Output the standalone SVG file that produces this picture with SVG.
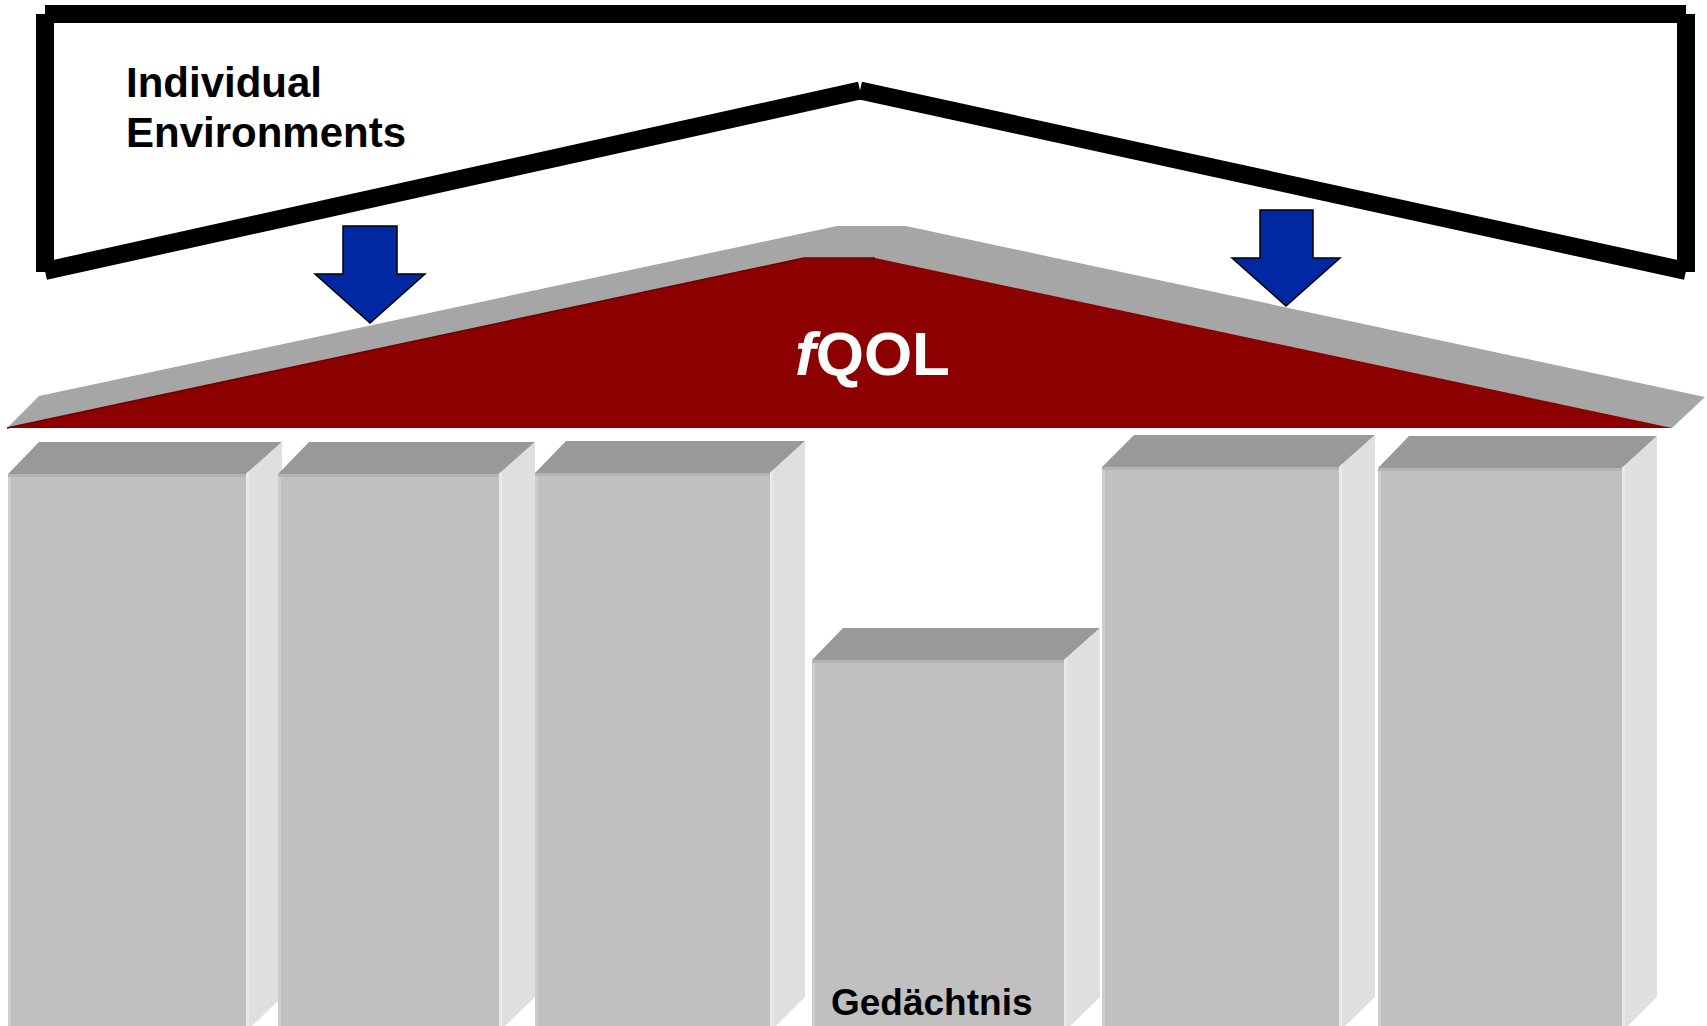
<svg xmlns="http://www.w3.org/2000/svg" width="1707" height="1026" viewBox="0 0 1707 1026">
  <defs>
    <style>
      .frame { fill: none; stroke: #000; stroke-width: 18; stroke-linecap: butt; }
      .top { fill: #999999; }
      .front { fill: #C0C0C0; }
      .side { fill: #DFDFDF; }
      .fedge { fill: #CDCDCD; }
      .tedge { fill: #B5B5B5; }
      .sedge { fill: #E9E9E9; }
      .arrow { fill: #0028A3; stroke: #000; stroke-width: 1.5; stroke-linejoin: miter; }
      .lbl { font-family: "Liberation Sans", Arial, sans-serif; font-weight: bold; fill: #000; }
      .roofgray { fill: #A6A6A6; }
      .roofred { fill: #8C0000; }
    </style>
  </defs>
  <rect x="0" y="0" width="1707" height="1026" fill="#FFFFFF"/>

  <g id="environments">
    <line class="frame" x1="45" y1="14" x2="1686" y2="14"/>
    <line class="frame" x1="45" y1="14" x2="45" y2="272"/>
    <line class="frame" x1="1686" y1="14" x2="1686" y2="272"/>
    <line class="frame" x1="45" y1="271" x2="860" y2="90.5"/>
    <line class="frame" x1="860" y1="90.5" x2="1686" y2="271"/>
    <text class="lbl" x="126" y="97" font-size="42">Individual</text>
    <text class="lbl" x="126" y="147" font-size="42">Environments</text>
  </g>

  <g id="roof">
    <polygon class="roofgray" points="7,428 39,396 837,226 906,226 1705,397 1672,428"/>
    <polygon class="roofred" points="7,428 804,258 875,258 1672,428"/>
    <polyline points="7,428 804,258 875,258" fill="none" stroke="#6E0000" stroke-width="1.5"/>
    <text x="795" y="375" font-family="Liberation Sans, Arial, sans-serif" font-weight="bold" font-size="62" fill="#FFFFFF"><tspan font-style="italic">f</tspan>QOL</text>
  </g>

  <g id="col1">
    <polygon class="top" points="8,474 39,442 282,442 246,474"/>
    <rect class="front" x="8" y="474" width="238" height="560"/>
    <rect class="fedge" x="8" y="474" width="3" height="560"/>
    <rect class="tedge" x="8" y="474" width="238" height="3"/>
    <polygon class="side" points="246,474 282,442 282,997 246,1032"/>
    <polygon class="sedge" points="246,474 249,471 249,1029 246,1032"/>
  </g>
  <g id="col2">
    <polygon class="top" points="278,474 309,442 535,442 499,474"/>
    <rect class="front" x="278" y="474" width="221" height="560"/>
    <rect class="fedge" x="278" y="474" width="3" height="560"/>
    <rect class="tedge" x="278" y="474" width="221" height="3"/>
    <polygon class="side" points="499,474 535,442 535,997 499,1032"/>
    <polygon class="sedge" points="499,474 502,471 502,1029 499,1032"/>
  </g>
  <g id="col3">
    <polygon class="top" points="535,473 566,441 805,441 770,473"/>
    <rect class="front" x="535" y="473" width="235" height="560"/>
    <rect class="fedge" x="535" y="473" width="3" height="560"/>
    <rect class="tedge" x="535" y="473" width="235" height="3"/>
    <polygon class="side" points="770,473 805,441 805,997 770,1032"/>
    <polygon class="sedge" points="770,473 773,470 773,1029 770,1032"/>
  </g>
  <g id="col4">
    <polygon class="top" points="812,660 843,628 1100,628 1064,660"/>
    <rect class="front" x="812" y="660" width="252" height="380"/>
    <rect class="fedge" x="812" y="660" width="3" height="380"/>
    <rect class="tedge" x="812" y="660" width="252" height="3"/>
    <polygon class="side" points="1064,660 1100,628 1100,997 1064,1032"/>
    <polygon class="sedge" points="1064,660 1067,657 1067,1029 1064,1032"/>
    <text class="lbl" x="831" y="1015" font-size="37">Gedächtnis</text>
  </g>
  <g id="col5">
    <polygon class="top" points="1102,467 1134,435 1375,435 1339,467"/>
    <rect class="front" x="1102" y="467" width="237" height="570"/>
    <rect class="fedge" x="1102" y="467" width="3" height="570"/>
    <rect class="tedge" x="1102" y="467" width="237" height="3"/>
    <polygon class="side" points="1339,467 1375,435 1375,997 1339,1032"/>
    <polygon class="sedge" points="1339,467 1342,464 1342,1029 1339,1032"/>
  </g>
  <g id="col6">
    <polygon class="top" points="1378,468 1409,436 1657,436 1622,468"/>
    <rect class="front" x="1378" y="468" width="244" height="570"/>
    <rect class="fedge" x="1378" y="468" width="3" height="570"/>
    <rect class="tedge" x="1378" y="468" width="244" height="3"/>
    <polygon class="side" points="1622,468 1657,436 1657,997 1622,1032"/>
    <polygon class="sedge" points="1622,468 1625,465 1625,1029 1622,1032"/>
  </g>

  <g id="connectors">
    <polygon class="arrow" points="343,226 397,226 397,274 425,274 370,323 315,274 343,274"/>
    <polygon class="arrow" points="1260,210 1313,210 1313,258 1340,258 1286,306 1232,258 1260,258"/>
  </g>
</svg>
